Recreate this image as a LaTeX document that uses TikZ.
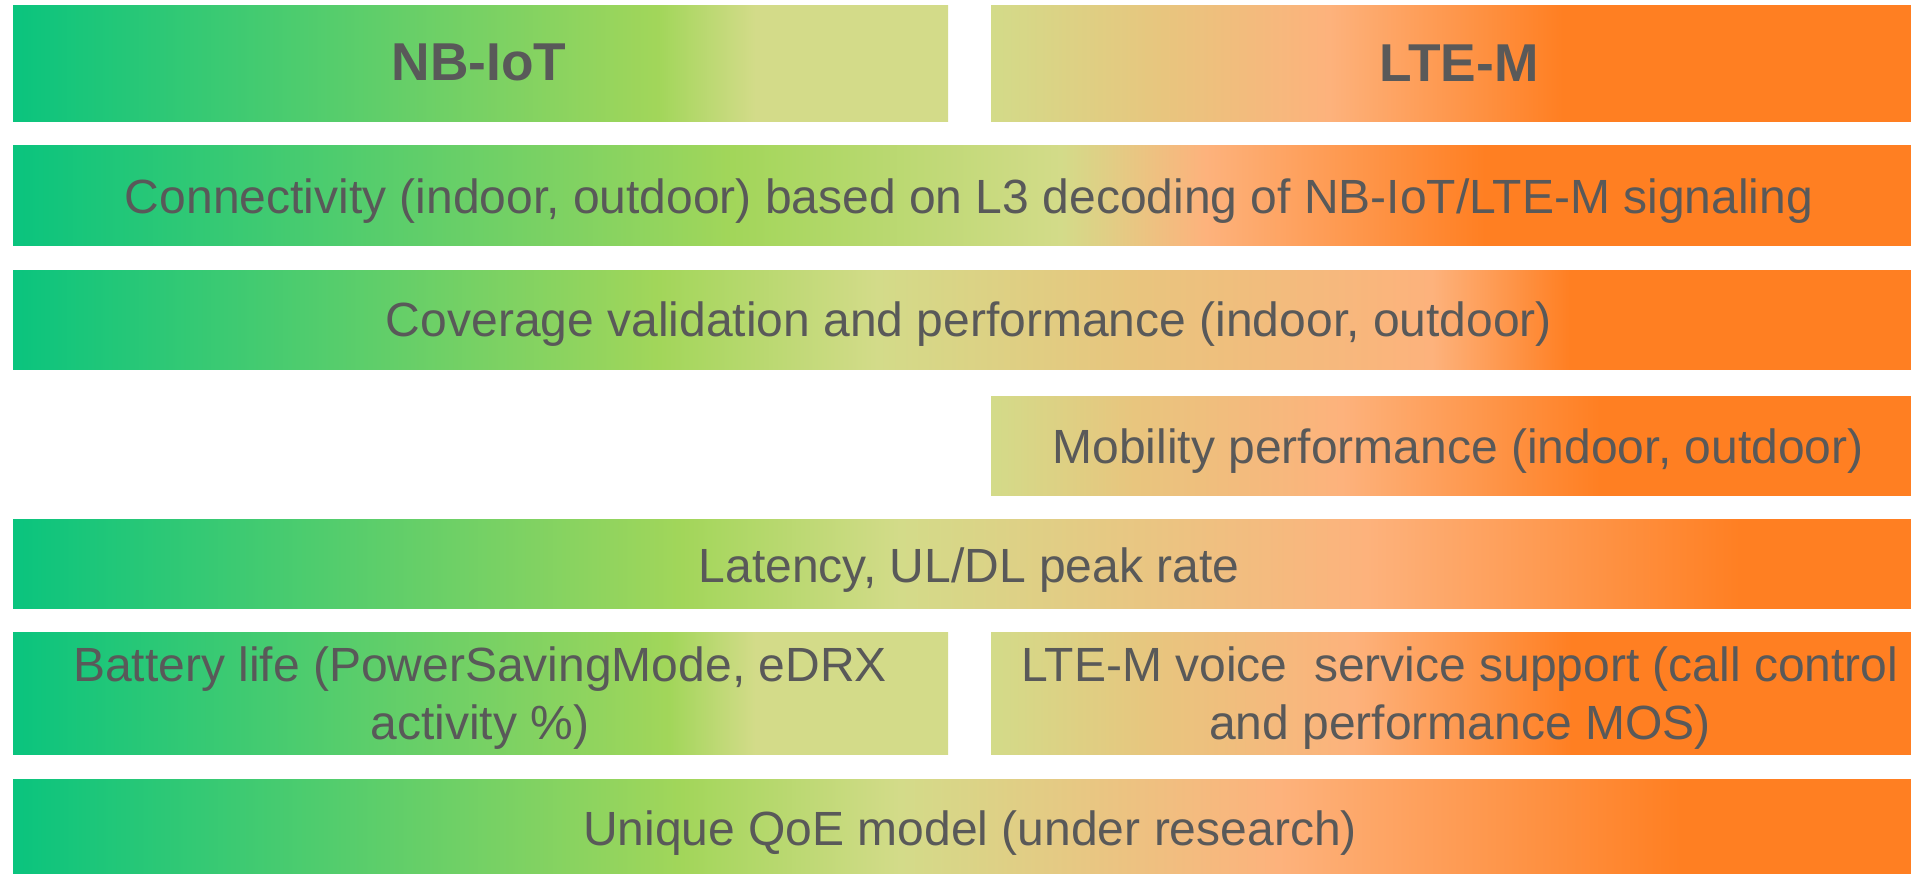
\documentclass[tikz,border=0pt]{standalone}
\usepackage{fontspec}
\setmainfont{Liberation Sans}
\definecolor{cG}{HTML}{0AC47E}
\definecolor{cL}{HTML}{A2D65A}
\definecolor{cP}{HTML}{D3DB89}
\definecolor{cT}{HTML}{E8C57E}
\definecolor{cK}{HTML}{FDB27C}
\definecolor{cO}{HTML}{FF7F22}
\definecolor{txt}{HTML}{595959}
% left half boxes
\pgfdeclarehorizontalshading{shLa}{100bp}{color(0bp)=(cG); color(25bp)=(cG); color(59.5bp)=(cL); color(64.7bp)=(cP); color(100bp)=(cP)}
\pgfdeclarehorizontalshading{shLb}{100bp}{color(0bp)=(cG); color(25bp)=(cG); color(60.1bp)=(cL); color(64.7bp)=(cP); color(100bp)=(cP)}
% right half boxes
\pgfdeclarehorizontalshading{shRa}{100bp}{color(0bp)=(cP); color(25bp)=(cP); color(34.3bp)=(cT); color(43.1bp)=(cK); color(55.6bp)=(cO); color(100bp)=(cO)}
\pgfdeclarehorizontalshading{shRb}{100bp}{color(0bp)=(cP); color(25bp)=(cP); color(32.7bp)=(cT); color(43.8bp)=(cK); color(57.6bp)=(cO); color(100bp)=(cO)}
\pgfdeclarehorizontalshading{shRc}{100bp}{color(0bp)=(cP); color(25bp)=(cP); color(33.9bp)=(cT); color(44.4bp)=(cK); color(56.1bp)=(cO); color(100bp)=(cO)}
% full rows
\pgfdeclarehorizontalshading{shF2}{100bp}{color(0bp)=(cG); color(25bp)=(cG); color(43.8bp)=(cL); color(52.4bp)=(cP); color(56.2bp)=(cK); color(63.5bp)=(cO); color(100bp)=(cO)}
\pgfdeclarehorizontalshading{shF3}{100bp}{color(0bp)=(cG); color(25bp)=(cG); color(41.9bp)=(cL); color(47.6bp)=(cP); color(54.2bp)=(cT); color(62.1bp)=(cK); color(65.7bp)=(cO); color(100bp)=(cO)}
\pgfdeclarehorizontalshading{shF5}{100bp}{color(0bp)=(cG); color(25bp)=(cG); color(42.5bp)=(cL); color(48.2bp)=(cP); color(60.4bp)=(cK); color(70.2bp)=(cO); color(100bp)=(cO)}
\pgfdeclarehorizontalshading{shF7}{100bp}{color(0bp)=(cG); color(25bp)=(cG); color(42.5bp)=(cL); color(48.2bp)=(cP); color(58.1bp)=(cK); color(68.6bp)=(cO); color(100bp)=(cO)}
\tikzset{
  box/.style={inner sep=0pt, outer sep=0pt, anchor=north west, shade},
  halfL/.style={box, minimum width=935pt},
  halfR/.style={box, minimum width=934pt},
  fullrow/.style={box, minimum width=1912pt},
  lbl/.style={inner sep=0pt, text=txt, font=\fontsize{48}{58}\selectfont, anchor=base},
  title/.style={lbl, font=\fontsize{53.3}{60}\selectfont\bfseries},
  twoline/.style={lbl, anchor=center, align=center}
}
\begin{document}
\begin{tikzpicture}[x=1pt, y=-1pt]
\useasboundingbox (0,0) rectangle (1911,874);
\clip (0,0) rectangle (1911,874);
% boxes
\node[halfL, shading=shLa, minimum height=116pt] (b1a) at (13,6) {};
\node[halfR, shading=shRa, minimum height=116pt] (b1b) at (991,6) {};
\node[fullrow, shading=shF2, minimum height=100pt] (b2) at (13,146) {};
\node[fullrow, shading=shF3, minimum height=99pt] (b3) at (13,271) {};
\node[halfR, shading=shRb, minimum height=99pt] (b4) at (991,396) {};
\node[fullrow, shading=shF5, minimum height=89pt] (b5) at (13,519) {};
\node[halfL, shading=shLb, minimum height=122pt] (b6a) at (13,632) {};
\node[halfR, shading=shRc, minimum height=122pt] (b6b) at (991,632) {};
\node[fullrow, shading=shF7, minimum height=100pt] (b7) at (13,779) {};
% texts
\node[title] (t1a) at (479,81) {NB-IoT};
\node[title] (t1b) at (1459,82) {LTE-M};
\node[lbl] (t2) at (969,214) {Connectivity (indoor, outdoor) based on L3 decoding of NB-IoT/LTE-M signaling};
\node[lbl] (t3) at (969,337) {Coverage validation and performance (indoor, outdoor)};
\node[lbl] (t4) at (1458,463) {Mobility performance (indoor, outdoor)};
\node[lbl] (t5) at (969,582) {Latency, UL/DL peak rate};
\node[twoline] (t6a) at (480,698.5) {Battery life (PowerSavingMode, eDRX\\activity \%)};
\node[twoline] (t6b) at (1460,698.5) {LTE-M voice~ service support (call control\\and performance MOS)};
\node[lbl] (t7) at (970,845) {Unique QoE model (under research)};
\end{tikzpicture}
\end{document}
